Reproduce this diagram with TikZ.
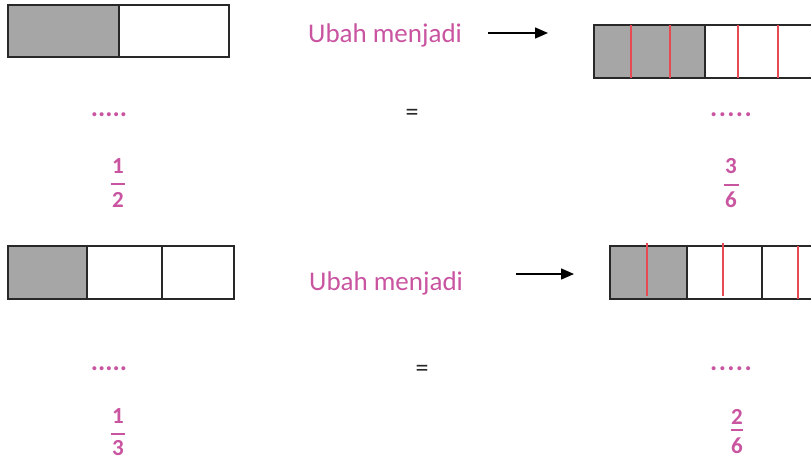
\documentclass[tikz,border=0pt]{standalone}
\usepackage{fontspec}
\setmainfont{Carlito}
\usetikzlibrary{arrows.meta}
\definecolor{pinktext}{RGB}{201,84,160}
\definecolor{shade}{RGB}{166,166,166}
\definecolor{cutline}{RGB}{232,74,84}
\definecolor{edge}{RGB}{40,40,40}
\tikzset{
  label text/.style={inner sep=0pt, anchor=base west, text=pinktext, font=\fontsize{27}{32}\selectfont},
  digit/.style={inner sep=0pt, anchor=base, text=pinktext, font=\bfseries\fontsize{23}{27}\selectfont},
  blank/.style={inner sep=0pt, anchor=base, text=pinktext, font=\bfseries\fontsize{27}{32}\selectfont},
  eqsign/.style={inner sep=0pt, text=edge, font=\fontsize{26}{30}\selectfont},
  fracbar/.style={draw=pinktext, line width=1.6pt},
  cell/.style={draw=edge, line width=1.4pt},
  filled/.style={cell, fill=shade},
  cut/.style={draw=cutline, line width=1.3pt},
  pointer/.style={draw=black, line width=1.5pt, -{Triangle[length=13pt,width=11pt]}}
}
\newcommand{\widedots}{.\kern1.4pt.\kern1.4pt.\kern1.4pt.\kern1.4pt.}
\begin{document}
\begin{tikzpicture}[x=1pt,y=-1pt]
\useasboundingbox (0,0) rectangle (811,461);
\begin{scope}
\clip (0,0) rectangle (811,461);

% ---- first row: 1/2 becomes 3/6 ----
\path[filled] (8,5) rectangle (119,57);
\path[cell] (119,5) rectangle (229,57);

\path[filled] (594,25) rectangle (705,78);
\path[cell] (705,25) rectangle (816,78);
\foreach \x in {631,670,738,778} \path[cut] (\x,25) -- (\x,78);

\node[label text] (t1) at (308,42) {Ubah menjadi};
\coordinate (a1s) at (488,33);
\coordinate (a1e) at (548,33);
\draw[pointer] (a1s) -- (a1e);

\node[blank] (d1l) at (109,116) {.....};
\node[blank] (d1r) at (731,116) {\widedots};
\node[eqsign] (e1) at (412,115) {=};

\node[digit] (n1l) at (118,173) {1};
\path[fracbar] (111,184) -- (125,184);
\node[digit] (m1l) at (118,207) {2};

\node[digit] (n1r) at (731,173) {3};
\path[fracbar] (724,185) -- (739,185);
\node[digit] (m1r) at (731,207) {6};

% ---- second row: 1/3 becomes 2/6 ----
\path[filled] (8,246) rectangle (87,299);
\path[cell] (87,246) rectangle (162,299);
\path[cell] (162,246) rectangle (234,299);

\path[filled] (610,246) rectangle (687,299);
\path[cell] (687,246) rectangle (762,299);
\path[cell] (762,246) rectangle (837,299);
\path[cut] (647,243) -- (647,296);
\path[cut] (723,243) -- (723,296);
\path[cut] (798,246) -- (798,299);

\node[label text] (t2) at (309,290) {Ubah menjadi};
\coordinate (a2s) at (516,274);
\coordinate (a2e) at (574,274);
\draw[pointer] (a2s) -- (a2e);

\node[blank] (d2l) at (109,370) {.....};
\node[blank] (d2r) at (731,370) {\widedots};
\node[eqsign] (e2) at (422,371) {=};

\node[digit] (n2l) at (118,423) {1};
\path[fracbar] (111,434) -- (125,434);
\node[digit] (m2l) at (118,455) {3};

\node[digit] (n2r) at (737,424) {2};
\path[fracbar] (731,430) -- (743,430);
\node[digit] (m2r) at (737,453) {6};
\end{scope}
\end{tikzpicture}
\end{document}
